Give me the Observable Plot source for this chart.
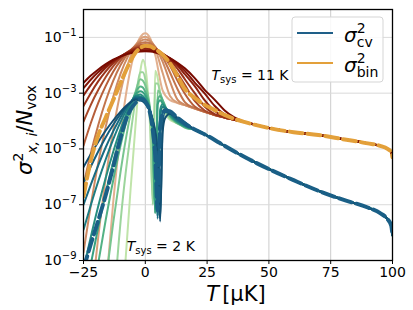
<!DOCTYPE html>
<html><head><meta charset="utf-8">
<script src="https://cdn.jsdelivr.net/npm/d3@7"></script>
<script src="https://cdn.jsdelivr.net/npm/@observablehq/plot@0.6"></script>
<style>body{margin:0;background:#fff;} #chart{width:413px;height:310px;}</style>
</head><body><div id="chart"></div>
<script>
// ---- axis ticks ----
const xTicks = [-25, 0, 25, 50, 75, 100];
const xTickLabels = ["−25", "0", "25", "50", "75", "100"];
const xGrid = [0, 25, 50, 75];
const yTicks = [1e-9, 1e-7, 1e-5, 1e-3, 1e-1];
const yTickLabels = ["10^−9", "10^−7", "10^−5", "10^−3", "10^−1"];

// ---- sigma^2_bin family (log10 values), T_sys = 2 ... 11 K ----
const binX = [-25,-22,-19,-16,-13,-10,-7,-4,-2,0,2,4,7,10,13,16,20,24,28,32,36];
const binTailX = [40,50,60,70,80,90,95,98,99.5,100];
const binTail = [-4.03,-4.25,-4.4,-4.5,-4.65,-4.8,-4.89,-5.0,-5.12,-5.3];
const binT2  = [-23.4,-18.3,-13.85,-10.07,-6.93,-4.45,-2.61,-1.43,-0.99,-0.85,-1.04,-1.62,-2.90,-3.25,-3.35,-3.43,-3.55,-3.67,-3.78,-3.87,-3.95];
const binT3  = [-13.4,-10.56,-8.13,-6.05,-4.33,-2.96,-1.95,-1.30,-1.06,-0.98,-1.09,-1.40,-2.27,-3.10,-3.34,-3.43,-3.55,-3.67,-3.78,-3.87,-3.95];
const binT4  = [-8.71,-6.99,-5.48,-4.20,-3.14,-2.30,-1.68,-1.28,-1.13,-1.08,-1.14,-1.34,-1.87,-2.59,-3.23,-3.42,-3.55,-3.67,-3.78,-3.87,-3.95];
const binT5  = [-6.30,-5.14,-4.13,-3.27,-2.56,-1.99,-1.57,-1.30,-1.20,-1.17,-1.21,-1.34,-1.70,-2.26,-2.85,-3.32,-3.54,-3.67,-3.78,-3.87,-3.95];
const binT6  = [-4.88,-4.06,-3.34,-2.74,-2.23,-1.83,-1.53,-1.34,-1.27,-1.25,-1.28,-1.37,-1.63,-2.02,-2.55,-3.02,-3.48,-3.66,-3.78,-3.87,-3.95];
const binT7  = [-4.02,-3.41,-2.88,-2.42,-2.04,-1.74,-1.52,-1.38,-1.33,-1.31,-1.33,-1.40,-1.59,-1.89,-2.29,-2.70,-3.28,-3.62,-3.77,-3.87,-3.95];
const binT8  = [-3.46,-2.99,-2.57,-2.22,-1.93,-1.70,-1.52,-1.41,-1.37,-1.36,-1.38,-1.43,-1.58,-1.81,-2.12,-2.50,-3.00,-3.48,-3.75,-3.87,-3.95];
const binT9  = [-3.08,-2.70,-2.37,-2.09,-1.86,-1.68,-1.54,-1.45,-1.42,-1.41,-1.42,-1.47,-1.58,-1.77,-2.01,-2.32,-2.75,-3.25,-3.64,-3.84,-3.95];
const binT10 = [-2.82,-2.51,-2.24,-2.02,-1.83,-1.68,-1.57,-1.49,-1.47,-1.46,-1.47,-1.51,-1.60,-1.75,-1.95,-2.20,-2.62,-3.01,-3.45,-3.76,-3.93];
const binT11 = [-2.63,-2.37,-2.15,-1.96,-1.80,-1.68,-1.59,-1.53,-1.51,-1.50,-1.51,-1.54,-1.62,-1.74,-1.91,-2.11,-2.46,-2.88,-3.23,-3.61,-3.87];
const binDashed = [-6.7,-5.4,-4.5,-3.87,-3.25,-2.63,-2.03,-1.55,-1.38,-1.30,-1.32,-1.42,-1.62,-1.93,-2.38,-2.85,-3.17,-3.42,-3.6,-3.78,-3.92];

// ---- sigma^2_cv family (log10 values), T_sys = 2 ... 11 K ----
const cvX = [-25,-22,-19,-16,-13,-10,-8,-6,-4,-2,-1,0,1,2,3,4,5,6,7,8,10,12,14,17];
const cvTailX = [20,25,30,40,50,60,70,80,90,95,98,99.5,100];
const cvTail = [-4.3,-4.52,-4.78,-5.28,-5.72,-6.12,-6.5,-6.82,-7.1,-7.3,-7.52,-7.75,-8.1];
const cvT2  = [-40,-35,-30,-24,-17,-11.5,-9.0,-6.5,-4.2,-2.2,-1.8,-2.05,-2.9,-4.3,-6.8,-2.2,-2.45,-3.0,-3.45,-3.72,-3.95,-4.05,-4.12,-4.22];
const cvT3  = [-30,-25,-20,-15.5,-11,-7.6,-5.9,-4.5,-3.25,-2.25,-2.25,-2.5,-3.1,-4.0,-7.0,-2.65,-2.65,-3.0,-3.4,-3.65,-3.9,-4.03,-4.12,-4.25];
const cvT4  = [-17.0,-14.4,-12.0,-9.74,-7.66,-5.81,-4.71,-3.75,-2.97,-2.50,-2.55,-2.72,-3.05,-3.60,-4.80,-7.20,-2.90,-3.00,-3.25,-3.50,-3.85,-4.02,-4.13,-4.27];
const cvT5  = [-12.5,-10.73,-9.08,-7.54,-6.13,-4.87,-4.13,-3.49,-2.99,-2.76,-2.80,-2.95,-3.20,-3.65,-4.60,-7.30,-3.25,-3.10,-3.25,-3.45,-3.82,-4.00,-4.12,-4.25];
const cvT6  = [-10.5,-9.11,-7.79,-6.58,-5.47,-4.49,-3.91,-3.42,-3.05,-2.93,-2.97,-3.08,-3.28,-3.65,-4.40,-7.30,-3.40,-3.25,-3.35,-3.50,-3.80,-3.98,-4.10,-4.23];
const cvT7  = [-9.30,-8.14,-7.04,-6.03,-5.11,-4.29,-3.82,-3.41,-3.11,-3.05,-3.10,-3.20,-3.38,-3.68,-4.15,-5.10,-7.40,-3.60,-3.40,-3.50,-3.75,-3.95,-4.08,-4.22];
const cvT8  = [-7.90,-7.00,-6.15,-5.37,-4.66,-4.03,-3.67,-3.36,-3.12,-3.12,-3.17,-3.26,-3.42,-3.68,-4.10,-4.90,-7.40,-3.90,-3.50,-3.52,-3.72,-3.92,-4.05,-4.20];
const cvT9  = [-7.00,-6.27,-5.58,-4.94,-4.37,-3.86,-3.57,-3.33,-3.16,-3.17,-3.22,-3.30,-3.44,-3.66,-4.00,-4.60,-7.50,-4.30,-3.70,-3.58,-3.70,-3.88,-4.00,-4.17];
const cvT10 = [-6.20,-5.62,-5.08,-4.58,-4.13,-3.74,-3.51,-3.33,-3.20,-3.22,-3.27,-3.35,-3.48,-3.68,-3.98,-4.45,-5.40,-7.50,-4.20,-3.68,-3.72,-3.85,-3.97,-4.15];
const cvT11 = [-5.65,-5.18,-4.74,-4.34,-3.98,-3.66,-3.48,-3.33,-3.24,-3.26,-3.30,-3.38,-3.50,-3.68,-3.95,-4.35,-5.10,-7.60,-4.40,-3.90,-3.74,-3.82,-3.93,-4.12];
const cvDashed = [-9.3,-8.4,-7.55,-6.65,-5.65,-4.6,-4.0,-3.6,-3.35,-3.22,-3.22,-3.3,-3.45,-3.75,-4.3,-5.2,-7.2,-4.2,-3.75,-3.62,-3.65,-3.8,-3.95,-4.15];

const binCurves = [binT2, binT3, binT4, binT5, binT6, binT7, binT8, binT9, binT10, binT11];
const cvCurves = [cvT2, cvT3, cvT4, cvT5, cvT6, cvT7, cvT8, cvT9, cvT10, cvT11];

function rows(xs, logs, tx, tl) {
  const r = xs.map((x, i) => ({x, y: Math.pow(10, logs[i])}));
  tx.forEach((x, i) => r.push({x, y: Math.pow(10, tl[i])}));
  return r;
}

const binColor = d3.interpolateRgbBasis(["#e2b08f", "#cc875c", "#b0522f", "#8e2210", "#780a00"]);
const cvColor = d3.interpolateRgbBasis(["#c0e4aa", "#80ca90", "#3aa67e", "#1f8780", "#186785", "#124f72"]);

const lineOpts = {x: "x", y: "y", curve: "monotone-x", clip: true};
const marks = [
  Plot.gridX(xGrid, {stroke: "#cccccc", strokeOpacity: 1}),
  Plot.gridY(yTicks, {stroke: "#dadada", strokeOpacity: 1}),
  ...binCurves.map((c, i) => Plot.line(rows(binX, c, binTailX, binTail),
      {...lineOpts, stroke: binColor(i / (binCurves.length - 1)), strokeWidth: 2})),
  ...cvCurves.map((c, i) => Plot.line(rows(cvX, c, cvTailX, cvTail),
      {...lineOpts, stroke: cvColor(i / (cvCurves.length - 1)), strokeWidth: 2})),
  Plot.line(rows(binX, binDashed, binTailX, binTail),
      {...lineOpts, stroke: "#e3a03a", strokeWidth: 4, strokeDasharray: "13,5"}),
  Plot.line(rows(cvX, cvDashed, cvTailX, cvTail),
      {...lineOpts, stroke: "#1a5f86", strokeWidth: 4, strokeDasharray: "13,5"}),
  Plot.frame({stroke: "black", strokeWidth: 1.3}),
  Plot.axisX({ticks: xTicks, tickSize: 4, tickPadding: 3, label: null,
      tickFormat: d => xTickLabels[xTicks.indexOf(d)]}),
  Plot.axisY({ticks: yTicks, tickSize: 4, tickPadding: 3, label: null,
      tickFormat: d => yTickLabels[yTicks.indexOf(d)]})
];

const plot = Plot.plot({
  width: 413, height: 310,
  marginLeft: 83, marginRight: 21, marginTop: 9, marginBottom: 50,
  x: {domain: [-25, 100]},
  y: {type: "log", domain: [1e-9, 1]},
  style: {fontFamily: "DejaVu Sans", fontSize: "14px", background: "white", color: "black"},
  marks
});
document.getElementById("chart").appendChild(plot);

const svg = d3.select(plot);
const FF = "DejaVu Sans";

// superscript tick labels
svg.selectAll('g[aria-label="y-axis tick label"] text').each(function() {
  const t = d3.select(this);
  const [base, ex] = t.text().split("^");
  t.text(null);
  t.append("tspan").text(base);
  t.append("tspan").attr("font-size", 10).attr("dy", -6).text(ex);
});

// axis labels
const xl = svg.append("text").attr("x", 236).attr("y", 301).attr("text-anchor", "middle")
  .attr("font-family", FF).attr("font-size", 21);
xl.append("tspan").attr("font-style", "italic").text("T");
xl.append("tspan").attr("dx", 3).text("[μK]");

const yl = svg.append("text").attr("transform", "translate(32,130) rotate(-90)")
  .attr("text-anchor", "middle").attr("font-family", FF).attr("font-size", 21);
yl.append("tspan").attr("font-style", "italic").text("σ");
yl.append("tspan").attr("font-size", 14).attr("dy", -9).text("2");
yl.append("tspan").attr("font-size", 14).attr("font-style", "italic").attr("dx", -1).attr("dy", 14).text("x, i");
yl.append("tspan").attr("dy", -5).text("/");
yl.append("tspan").attr("font-style", "italic").text("N");
yl.append("tspan").attr("font-size", 14).attr("dy", 4).text("vox");

// annotations (placed in data coordinates)
const sx = plot.scale("x"), sy = plot.scale("y");
function tsys(x, y, val) {
  const t = svg.append("text").attr("x", sx.apply(x)).attr("y", sy.apply(y))
    .attr("text-anchor", "start").attr("font-family", FF).attr("font-size", 14);
  t.append("tspan").attr("font-style", "italic").text("T");
  t.append("tspan").attr("font-size", 10).attr("dy", 3).text("sys");
  t.append("tspan").attr("dy", -3).text(" = " + val + " K");
}
tsys(27, Math.pow(10, -2.55), "11");
tsys(-7.3, Math.pow(10, -8.68), "2");

// legend
const lg = svg.append("g");
lg.append("rect").attr("x", 292).attr("y", 17).attr("width", 91).attr("height", 65).attr("rx", 3)
  .attr("fill", "white").attr("fill-opacity", 0.85).attr("stroke", "#d5d5d5");
const legendItems = [{y: 33, color: "#1f5f88", sub: "cv"}, {y: 63, color: "#e3a03a", sub: "bin"}];
legendItems.forEach(it => {
  lg.append("line").attr("x1", 297).attr("x2", 333).attr("y1", it.y).attr("y2", it.y)
    .attr("stroke", it.color).attr("stroke-width", 2);
  const t = lg.append("text").attr("x", 344).attr("y", it.y + 9).attr("text-anchor", "start")
    .attr("font-family", FF).attr("font-size", 20);
  t.append("tspan").attr("font-style", "italic").text("σ");
  t.append("tspan").attr("font-size", 14).attr("dy", -9).text("2");
  t.append("tspan").attr("font-size", 14).attr("dx", -8.9).attr("dy", 14).text(it.sub);
});
</script>
</body></html>
